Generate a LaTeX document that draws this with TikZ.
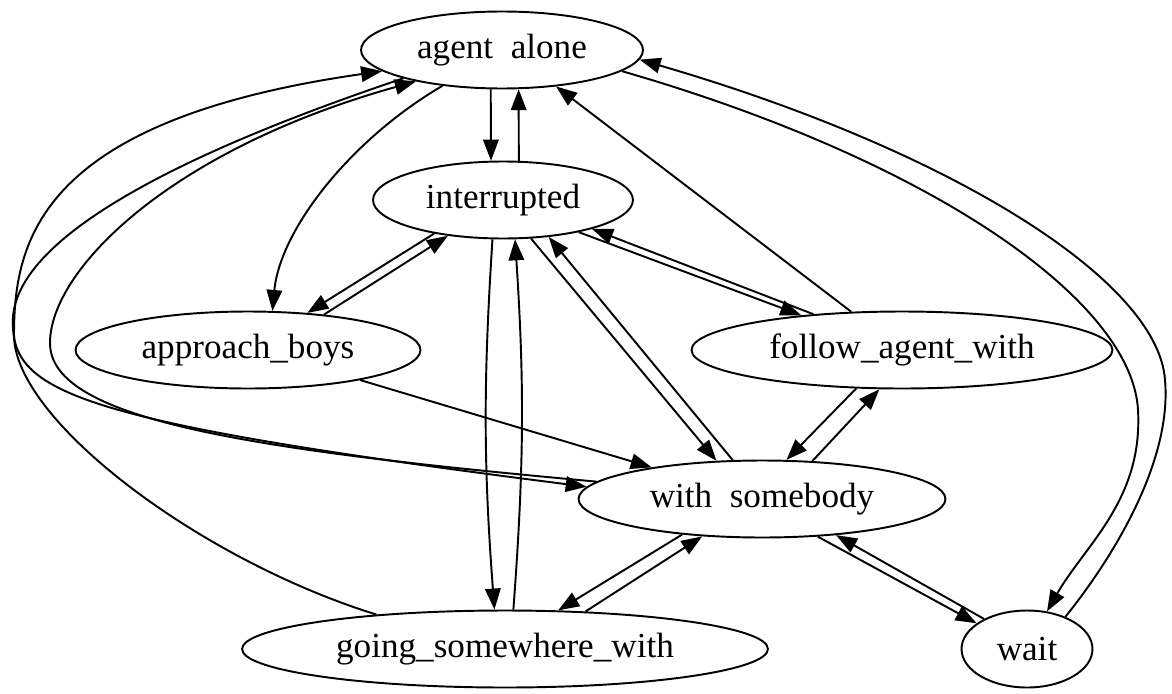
\documentclass[tikz,border=0pt]{standalone}
\usepackage{fontspec}
\setmainfont{Liberation Serif}
\usetikzlibrary{shapes.geometric,arrows.meta}

\begin{document}
\begin{tikzpicture}[x=0.02cm,y=-0.02cm,
    state/.style={draw, ellipse, line width=1.1pt, inner sep=0pt,
      minimum height=1.54cm, font=\fontsize{20}{24}\selectfont},
    trans/.style={-{Triangle[length=4.2mm,width=3.1mm]}, line width=1.1pt}]
    \useasboundingbox (0,0) rectangle (1172,693);

    % States
    \node[state, minimum width=5.64cm] (alone) at (502,50) {agent\enspace alone};
    \node[state, minimum width=5.2cm] (interrupted) at (503,200) {interrupted};
    \node[state, minimum width=6.9cm] (approach) at (248,350) {approach\_boys};
    \node[state, minimum width=8.42cm] (follow) at (902,350) {follow\_agent\_with};
    \node[state, minimum width=7.34cm] (somebody) at (762,499) {with\enspace somebody};
    \node[state, minimum width=10.52cm] (going) at (505,649) {going\_somewhere\_with};
    \node[state, minimum width=2.62cm] (wait) at (1027,649) {wait};

    % agent alone <-> interrupted
    \draw[trans] (alone.254) -- (interrupted.107);
    \draw[trans] (interrupted.68) -- (alone.293);

    % agent alone -> approach_boys
    \draw[trans] (alone.211) .. controls (350,140) and (280,230) .. (approach.58);

    % interrupted <-> approach_boys
    \draw[trans] (interrupted.206) -- (approach.32);
    \draw[trans] (approach.25) -- (interrupted.213);

    % approach_boys -> with somebody
    \draw[trans] (approach.345) -- (somebody.164);

    % agent alone <-> with somebody (round the left side)
    \draw[trans] (alone.196) .. controls (250,130) and (20,220) .. (13,317)
        .. controls (10,390) and (60,420) .. (somebody.176);
    \draw[trans] (somebody.174) .. controls (250,450) and (50,420) .. (50,343)
        .. controls (50,270) and (170,150) .. (alone.200);

    % going_somewhere_with -> agent alone
    \draw[trans] (going.165) .. controls (200,560) and (14,420) .. (14,335)
        .. controls (14,240) and (40,120) .. (alone.190);

    % interrupted <-> going_somewhere_with
    \draw[trans] (interrupted.255) to[bend right=4] (going.105);
    \draw[trans] (going.78) to[bend right=4] (interrupted.287);

    % interrupted <-> with somebody
    \draw[trans] (interrupted.306) -- (somebody.140);
    \draw[trans] (somebody.127) -- (interrupted.321);

    % interrupted <-> follow_agent_with
    \draw[trans] (interrupted.337) -- (follow.161);
    \draw[trans] (follow.158) -- (interrupted.342);

    % follow_agent_with -> agent alone
    \draw[trans] (follow.143) -- (alone.326);

    % follow_agent_with <-> with somebody
    \draw[trans] (follow.220) -- (somebody.58);
    \draw[trans] (somebody.37) -- (follow.240);

    % with somebody <-> going_somewhere_with
    \draw[trans] (somebody.204) -- (going.36);
    \draw[trans] (going.25) -- (somebody.212);

    % with somebody <-> wait
    \draw[trans] (somebody.326) -- (wait.153);
    \draw[trans] (wait.145) -- (somebody.334);

    % agent alone <-> wait (round the right side)
    \draw[trans] (alone.350) .. controls (930,160) and (1132,300) .. (1138,410)
        .. controls (1143,500) and (1085,545) .. (wait.62);
    \draw[trans] (wait.40) .. controls (1115,555) and (1172,460) .. (1165,380)
        .. controls (1158,280) and (950,150) .. (alone.356);
\end{tikzpicture}
\end{document}
